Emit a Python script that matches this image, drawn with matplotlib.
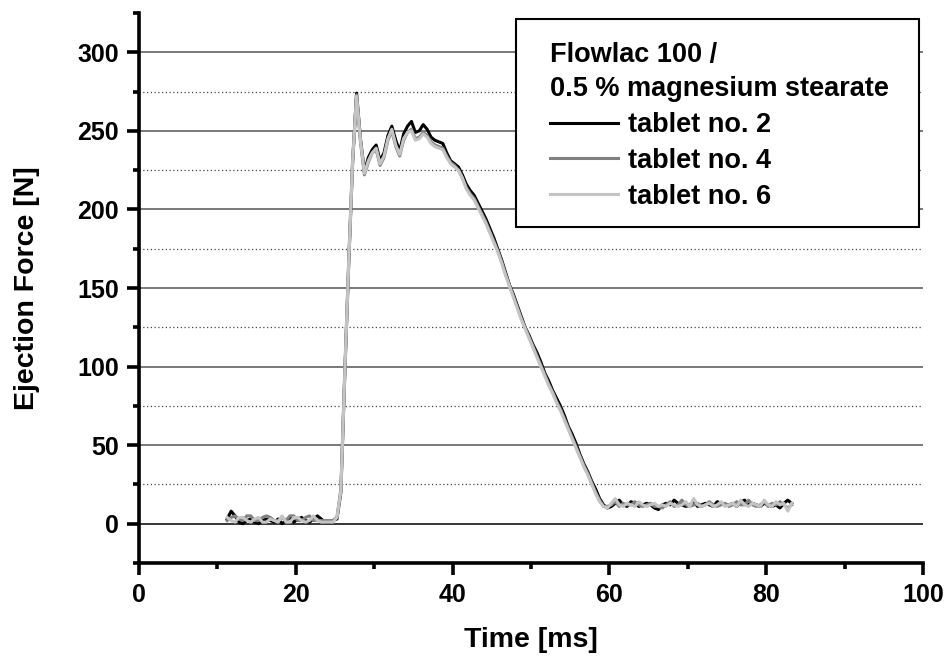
import numpy as np
import matplotlib
matplotlib.use('Agg')
import matplotlib.pyplot as plt
from matplotlib.ticker import MultipleLocator
from matplotlib.patches import Rectangle

plt.rcParams['font.family'] = ['Liberation Sans', 'DejaVu Sans']
plt.rcParams['font.weight'] = 'bold'

# sampling times [ms], one reading every 0.5 ms
time_ms = np.arange(11.25, 83.26, 0.5)

# ejection force [N]
tablet_2 = [3, 8, 5, 1, 0, 2, 3, 1, 0, 2, 3, 2, 1, 3, 0, 2, 4, 1, 3, 4,
            2, 1, 3, 5, 3, 1, 1, 2, 3,
            20, 95, 165, 230, 274, 245, 224, 233, 238, 241, 231, 236, 247, 253, 244,
            237, 248, 253, 256, 249, 250, 254, 251, 246, 244, 243, 242, 236, 231, 229,
            227, 222, 216, 212, 209, 204, 199, 194, 188, 182, 175, 168, 160, 152, 146,
            139, 132, 125, 120, 114, 109, 103, 96, 91, 85, 80, 75, 69, 62, 57,
            51, 44, 38, 33, 27, 22, 16, 12, 10,
            11, 13, 15, 12, 11, 14, 13, 11, 12, 13, 12, 10, 9, 12, 13, 12, 15, 13,
            12, 11, 12, 14, 11, 12, 13, 12, 11, 14, 13, 12, 12, 13, 11, 14, 15, 12,
            13, 12, 11, 13, 12, 11, 12, 10, 13, 15, 13]
tablet_4 = [2, 4, 5, 3, 2, 5, 5, 2, 2, 4, 5, 4, 2, 2, 4, 2, 5, 5, 2, 2,
            4, 5, 2, 2, 2, 2, 2, 2, 4,
            22, 98, 168, 232, 273, 243, 222, 230, 236, 238, 228, 233, 244, 250, 240,
            234, 244, 249, 251, 245, 246, 249, 247, 243, 241, 240, 239, 234, 230, 228,
            225, 220, 214, 210, 207, 202, 197, 192, 186, 180, 174, 167, 159, 152, 145,
            138, 131, 125, 119, 113, 107, 101, 95, 89, 84, 78, 73, 67, 61, 55,
            49, 43, 37, 32, 26, 20, 15, 11, 11,
            12, 14, 11, 13, 12, 12, 14, 12, 11, 12, 13, 11, 11, 10, 12, 14, 11, 12,
            15, 12, 11, 12, 13, 11, 12, 14, 12, 11, 12, 13, 11, 12, 14, 12, 12, 15,
            12, 11, 12, 14, 11, 13, 12, 14, 12, 10, 12]
tablet_6 = [4, 2, 1, 4, 4, 2, 1, 3, 4, 1, 1, 3, 2, 1, 5, 1, 1, 4, 4, 2,
            1, 2, 5, 2, 1, 1, 1, 1, 4,
            21, 96, 166, 231, 272, 244, 223, 231, 236, 239, 229, 234, 245, 251, 241,
            235, 245, 249, 250, 244, 245, 248, 246, 242, 240, 239, 238, 233, 229, 227,
            225, 220, 213, 209, 206, 201, 196, 191, 185, 179, 173, 166, 158, 151, 144,
            137, 130, 124, 118, 112, 106, 100, 94, 88, 83, 77, 72, 66, 60, 54,
            48, 42, 36, 31, 25, 19, 14, 11, 10,
            13, 16, 12, 11, 13, 12, 11, 14, 12, 11, 12, 13, 11, 12, 11, 13, 12, 11,
            12, 14, 11, 16, 12, 11, 12, 13, 11, 12, 14, 11, 12, 13, 11, 15, 12, 11,
            13, 12, 11, 15, 12, 11, 14, 12, 13, 8, 13]

labels = ['tablet no. 2', 'tablet no. 4', 'tablet no. 6']
colors = ['#000000', '#808080', '#c4c4c4']
legend_title = 'Flowlac 100 /\n0.5 % magnesium stearate'

fig = plt.figure(figsize=(9.51, 6.56), dpi=100)
ax = fig.add_axes([139/951, 93/656, 784/951, 550/656])

lines = []
for vals, lab, col in zip([tablet_2, tablet_4, tablet_6], labels, colors):
    ln, = ax.plot(time_ms, vals, color=col, lw=2.2, label=lab, zorder=3)
    lines.append(ln)

ax.set_xlim(0, 100)
ax.set_ylim(-25, 325)
ax.xaxis.set_major_locator(MultipleLocator(20))
ax.xaxis.set_minor_locator(MultipleLocator(10))
ax.yaxis.set_major_locator(MultipleLocator(50))
ax.yaxis.set_minor_locator(MultipleLocator(25))

for s in ['top', 'right']:
    ax.spines[s].set_visible(False)
for s in ['left', 'bottom']:
    ax.spines[s].set_linewidth(2.6)

ax.tick_params(which='major', direction='out', length=8.5, width=2.6, labelsize=18, pad=6)
ax.tick_params(which='minor', direction='out', length=4.5, width=2.6)

# horizontal grid: solid at major ticks, dotted in between (not at the axis ends)
for yv in range(0, 301, 50):
    ax.axhline(yv, color='black' if yv == 0 else '#555555', lw=1.1, zorder=1)
for yv in range(25, 300, 50):
    ax.axhline(yv, color='#444444', lw=0.9, ls=(0, (1, 2)), zorder=1)

ax.set_xlabel('Time [ms]', fontsize=20.5, fontweight='bold', labelpad=14)
ax.set_ylabel('Ejection Force [N]', fontsize=20.5, fontweight='bold', labelpad=27)

# legend box drawn separately so its padding can match
box = Rectangle((516/951, 1 - 227/656), 403/951, 208/656, transform=fig.transFigure,
                facecolor='white', edgecolor='black', lw=1.5, clip_on=False, zorder=4)
ax.add_patch(box)

leg = ax.legend(handles=lines, title=legend_title, loc='upper left',
                bbox_to_anchor=(550/951, 1 - 42/656), bbox_transform=fig.transFigure,
                borderaxespad=0, borderpad=0, fontsize=19.5,
                title_fontproperties={'size': 19.5, 'weight': 'bold'},
                alignment='left', frameon=False, handlelength=2.5, handletextpad=0.37,
                labelspacing=0.36)
leg.get_title().set_linespacing(1.42)
leg.set_zorder(5)

plt.savefig('out.png', dpi=100)
